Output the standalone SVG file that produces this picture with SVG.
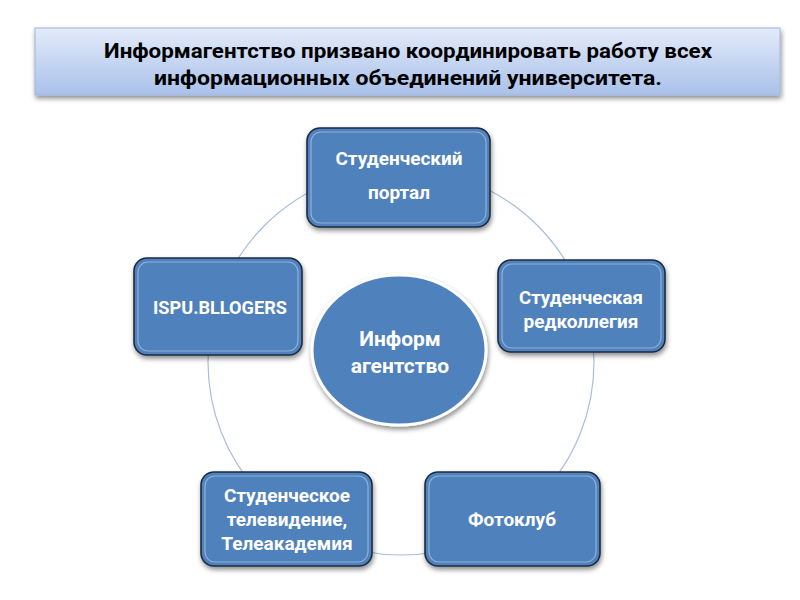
<svg xmlns="http://www.w3.org/2000/svg" width="800" height="600" viewBox="0 0 800 600">
<defs>
<linearGradient id="tg" x1="0" y1="0" x2="0" y2="1">
<stop offset="0" stop-color="#e3ebf9"/>
<stop offset="1" stop-color="#a9c1ea"/>
</linearGradient>
<filter id="sh" x="-20%" y="-20%" width="140%" height="150%">
<feGaussianBlur in="SourceAlpha" stdDeviation="2.5"/>
<feOffset dx="1" dy="3" result="b"/>
<feComponentTransfer><feFuncA type="linear" slope="0.45"/></feComponentTransfer>
<feMerge><feMergeNode/><feMergeNode in="SourceGraphic"/></feMerge>
</filter>
<style>
.box{fill:#4f81bd;stroke:#1e2c40;stroke-width:1.6}
.inner{fill:none;stroke:#a9c4e6;stroke-width:1.2;stroke-opacity:0.7}
.lbl{font-family:Roboto,"Open Sans","Liberation Sans",sans-serif;font-weight:bold;font-size:19px;fill:#ffffff;text-anchor:middle}
.big{font-size:21px}
.ttl{font-family:Roboto,"Open Sans","Liberation Sans",sans-serif;font-weight:bold;font-size:20px;fill:#000000;text-anchor:middle}
.ring{fill:none;stroke:#a7bedc;stroke-width:1.2}
</style>
</defs>
<rect x="0" y="0" width="800" height="600" fill="#ffffff"/>

<g id="title">
<rect x="35" y="28" width="745" height="67" fill="url(#tg)" stroke="#9fb6dc" stroke-width="1" filter="url(#sh)"/>
<text class="ttl" x="408" y="58" textLength="608" lengthAdjust="spacingAndGlyphs">Информагентство призвано координировать работу всех</text>
<text class="ttl" x="408" y="85" textLength="508" lengthAdjust="spacingAndGlyphs">информационных объединений университета.</text>
</g>

<g id="connectors">
<circle class="ring" cx="401" cy="362" r="193"/>
</g>

<g id="center">
<ellipse cx="399" cy="350" rx="87" ry="75" fill="#4f81bd" stroke="#ffffff" stroke-width="3" filter="url(#sh)"/>
<text class="lbl big" x="400" y="346">Информ</text>
<text class="lbl big" x="400" y="373">агентство</text>
</g>

<g id="portal">
<rect class="box" x="307" y="128" width="183" height="99" rx="13" filter="url(#sh)"/>
<rect class="inner" x="311" y="132" width="175" height="91" rx="10"/>
<text class="lbl" x="399" y="165">Студенческий</text>
<text class="lbl" x="399" y="199">портал</text>
</g>

<g id="redkollegia">
<rect class="box" x="498" y="260" width="167" height="92" rx="13" filter="url(#sh)"/>
<rect class="inner" x="502" y="264" width="159" height="84" rx="10"/>
<text class="lbl" x="581" y="304" textLength="124" lengthAdjust="spacingAndGlyphs">Студенческая</text>
<text class="lbl" x="581" y="328">редколлегия</text>
</g>

<g id="fotoklub">
<rect class="box" x="425" y="472" width="175" height="94" rx="13" filter="url(#sh)"/>
<rect class="inner" x="429" y="476" width="167" height="86" rx="10"/>
<text class="lbl" x="512" y="526">Фотоклуб</text>
</g>

<g id="tv">
<rect class="box" x="201" y="472" width="171" height="94" rx="13" filter="url(#sh)"/>
<rect class="inner" x="205" y="476" width="163" height="86" rx="10"/>
<text class="lbl" x="287" y="502">Студенческое</text>
<text class="lbl" x="287" y="526">телевидение,</text>
<text class="lbl" x="287" y="550">Телеакадемия</text>
</g>

<g id="bloggers">
<rect class="box" x="134" y="258" width="168" height="97" rx="13" filter="url(#sh)"/>
<rect class="inner" x="138" y="262" width="160" height="89" rx="10"/>
<text class="lbl" x="220" y="314" textLength="134" lengthAdjust="spacingAndGlyphs">ISPU.BLLOGERS</text>
</g>
</svg>
